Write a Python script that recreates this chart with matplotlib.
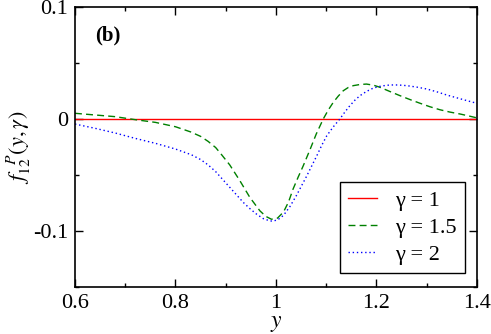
import numpy as np
import matplotlib
matplotlib.use("Agg")
import matplotlib.pyplot as plt
from matplotlib.ticker import MultipleLocator

plt.rcParams["font.family"] = ["Liberation Serif", "DejaVu Serif"]
plt.rcParams["mathtext.fontset"] = "stix"

# gamma = 1 (identically zero)
y_g1 = [0.6, 1.4]
f_g1 = [0.0, 0.0]

# gamma = 1.5
y_g15 = [0.600, 0.640, 0.680, 0.720, 0.760, 0.800, 0.830, 0.850, 0.865, 0.880,
         0.892, 0.908, 0.928, 0.948, 0.968, 0.980, 0.991, 1.003, 1.015, 1.025,
         1.034, 1.044, 1.054, 1.068, 1.080, 1.094, 1.104, 1.114, 1.124, 1.134,
         1.144, 1.154, 1.167, 1.180, 1.194, 1.207, 1.227, 1.247, 1.267, 1.287,
         1.306, 1.326, 1.346, 1.366, 1.383, 1.400]
f_g15 = [0.0051, 0.0036, 0.0021, -0.0006, -0.0030, -0.0069, -0.0115, -0.0155,
         -0.0200, -0.0255, -0.0320, -0.0410, -0.0550, -0.0700, -0.0820, -0.0870,
         -0.0895, -0.0885, -0.0830, -0.0740, -0.0625, -0.0520, -0.0420, -0.0270,
         -0.0135, 0.0000, 0.0080, 0.0149, 0.0205, 0.0253, 0.0282, 0.0298, 0.0308,
         0.0312, 0.0302, 0.0283, 0.0245, 0.0208, 0.0173, 0.0140, 0.0110, 0.0083,
         0.0062, 0.0045, 0.0028, 0.0010]

# gamma = 2
y_g2 = [0.600, 0.640, 0.680, 0.720, 0.760, 0.800, 0.832, 0.850, 0.865, 0.880,
        0.895, 0.908, 0.922, 0.935, 0.948, 0.962, 0.975, 0.988, 0.995, 1.005,
        1.015, 1.028, 1.041, 1.051, 1.061, 1.071, 1.081, 1.091, 1.101, 1.114,
        1.127, 1.137, 1.147, 1.157, 1.167, 1.180, 1.194, 1.210, 1.227, 1.243,
        1.260, 1.280, 1.300, 1.320, 1.340, 1.360, 1.380, 1.400]
f_g2 = [-0.0045, -0.0083, -0.0125, -0.0173, -0.0217, -0.0268, -0.0320, -0.0362,
        -0.0410, -0.0470, -0.0545, -0.0610, -0.0680, -0.0745, -0.0800, -0.0852,
        -0.0890, -0.0910, -0.0912, -0.0895, -0.0860, -0.0780, -0.0680, -0.0595,
        -0.0510, -0.0420, -0.0330, -0.0235, -0.0150, -0.0070, 0.0000, 0.0062,
        0.0119, 0.0168, 0.0208, 0.0246, 0.0277, 0.0295, 0.0304, 0.0304, 0.0298,
        0.0285, 0.0268, 0.0243, 0.0214, 0.0189, 0.0164, 0.0140]

fig = plt.figure(figsize=(4.91, 3.34), dpi=100)
ax = fig.add_axes([0.1527, 0.1407, 0.8188, 0.8383])

ax.plot(y_g1, f_g1, color="red", lw=1.0, label="γ = 1")
ax.plot(y_g15, f_g15, color="green", lw=1.0, ls=(0, (5, 3)), label="γ = 1.5")
ax.plot(y_g2, f_g2, color="blue", lw=1.0, ls=(0, (1, 2)), label="γ = 2")

ax.set_xlim(0.6, 1.4)
ax.set_ylim(-0.15, 0.1)
ax.xaxis.set_minor_locator(MultipleLocator(0.1))
ax.yaxis.set_minor_locator(MultipleLocator(0.05))
ax.set_xticks([0.6, 0.8, 1.0, 1.2, 1.4])
ax.set_xticklabels(["0.6", "0.8", "1", "1.2", "1.4"])
ax.set_yticks([-0.1, 0, 0.1])
ax.set_yticklabels(["-0.1", "0", "0.1"])

ax.tick_params(which="both", direction="in", top=True, right=True, labelsize=16, width=1.0)
ax.tick_params(which="major", length=6, pad=5)
ax.tick_params(which="minor", length=3)
for s in ax.spines.values():
    s.set_linewidth(1.2)

ax.set_xlabel(r"$y$", fontsize=17, labelpad=0)
ax.set_ylabel(r"$f_{\mathit{12}}^{\ \ P}(y,\gamma)$", fontsize=16, labelpad=0)

ax.text(0.05, 0.9, "(b)", transform=ax.transAxes, fontsize=15, fontweight="bold",
        va="center", ha="left")

leg = ax.legend(loc="lower right", bbox_to_anchor=(0.97, 0.05), fontsize=16,
                frameon=True, fancybox=False, edgecolor="black", framealpha=1,
                handlelength=1.3, borderpad=0.35, labelspacing=0.3,
                handletextpad=0.85, borderaxespad=0)
leg.get_frame().set_linewidth(1.0)

fig.savefig("out.png", dpi=100)
